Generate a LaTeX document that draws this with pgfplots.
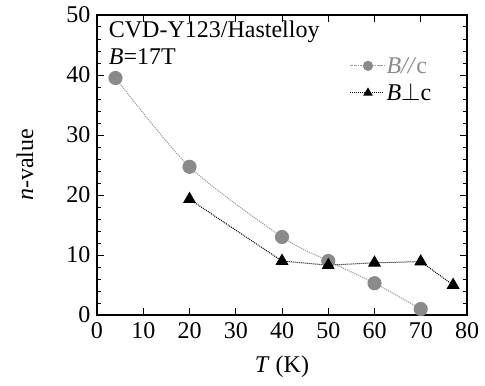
\documentclass[border=0pt]{standalone}
\usepackage{fontspec}
\setmainfont{Liberation Serif}
\usepackage{pgfplots}
\pgfplotsset{compat=1.18}
\definecolor{mgrey}{HTML}{8A8A8A}
\definecolor{lgrey}{HTML}{9C9C9C}
\begin{document}
\begin{tikzpicture}
\begin{axis}[
  width=370pt, height=300pt, scale only axis,
  xmin=0, xmax=80, ymin=0, ymax=50,
  xtick={0,10,...,80}, ytick={0,10,...,50},
  minor y tick num=4,
  xtick pos=both, ytick pos=both,
  tick align=inside,
  major tick length=7pt, minor tick length=4pt,
  axis line style={line width=1.2pt},
  every tick/.style={line width=1pt, black},
  font=\fontsize{24}{28}\selectfont,
  /pgf/number format/assume math mode=true,
  xticklabel style={yshift=-4pt},
  yticklabel style={xshift=-3pt},
  xlabel={\textit{T} (K)},
  ylabel={\textit{n}-value},
  every axis x label/.style={at={(axis description cs:0.5,-0.172)}, anchor=center},
  every axis y label/.style={at={(axis description cs:-0.195,0.5)}, rotate=90, anchor=center},
  legend style={at={(rel axis cs:0.679,0.87)}, anchor=north west, draw=none, fill=none,
    font=\fontsize{24}{28}\selectfont, row sep=5pt, inner sep=1pt},
  legend cell align=left,
  legend image code/.code={\draw[mark repeat=2, mark phase=2, #1, mark size=4.5pt] plot coordinates {(0pt,0pt) (18pt,0pt) (34pt,0pt)};},
]
\addplot[color=lgrey, densely dotted, line width=1.1pt, smooth, tension=0.45,
  mark=*, mark size=6.5pt, mark options={solid, fill=mgrey, draw=mgrey}]
  coordinates {(4,39.5) (20,24.7) (40,13) (50,9) (60,5.3) (70,1)};
\addlegendentry{\textcolor{mgrey}{\textit{B//}c}}
\addplot[color=black, densely dotted, line width=1pt,
  mark=triangle*, mark size=6.5pt, mark options={solid, fill=black, draw=black}]
  coordinates {(20,19.3) (40,9) (50,8.3) (60,8.7) (70,8.9) (77,5)};
\addlegendentry{\textit{B}$\perp$c}
\node[anchor=base west] at (axis cs:1.8,46.2) {CVD-Y123/Hastelloy};
\node[anchor=base west] at (axis cs:1.8,41.7) {\textit{B}=17T};
\end{axis}
\pgfresetboundingbox
\path ([shift={(-97pt,-70pt)}]current axis.south west) rectangle ([shift={(18pt,15pt)}]current axis.north east);
\end{tikzpicture}
\end{document}
